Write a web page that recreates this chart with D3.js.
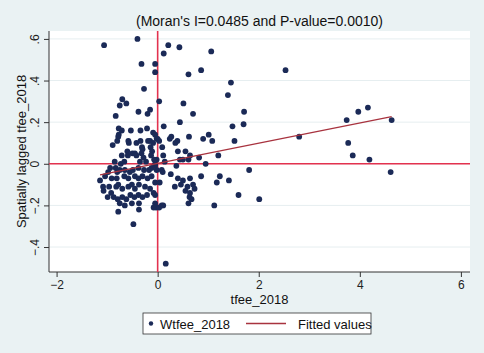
<!DOCTYPE html>
<html>
<head>
<meta charset="utf-8">
<script src="https://cdn.jsdelivr.net/npm/d3@7"></script>
<style>
  body { margin: 0; background: #eaf2f3; }
  svg { display: block; }
  text { font-family: 'Liberation Sans', Arial, sans-serif; }
</style>
</head>
<body>
<svg id="chart" width="484" height="353"></svg>
<script>
// Moran scatter: x = tfee_2018, y = spatially lagged tfee_2018
const tfee = [
  -1.06, -0.40, 0.21, 0.43, 0.12, 1.06, -0.32, -0.05, -0.05, 0.61,
  0.86, 2.53, -0.27, 1.45, 1.39, -0.70, -0.75, -0.62, 0.03, 0.51,
  -0.38, -0.20, -0.15, 0.70, -0.83, 1.71, 0.44, 0.12, 1.48, 1.70,
  -0.77, -0.71, -0.53, -0.34, -0.21, -0.09, 0.62, -0.77, -0.80, -0.89,
  -0.58, -0.57, -0.42, -0.34, -0.19, -0.15, -0.02, 0.27, 0.24, 0.39,
  0.35, -0.31, -0.14, 0.09, 0.90, 1.01, 1.08, 1.52, 2.80, 3.74,
  3.97, 4.16, 4.63, 3.77, 3.86, 4.19, 4.61, 0.64, 0.82, 1.20,
  0.95, 1.81, 0.64, 0.86, 0.70, 0.73, 1.23, 1.17, 1.41, 0.64,
  0.67, 1.60, 2.01, 1.12, -0.05, 0.00, 0.03, 0.40, 0.55, 0.11,
  0.44, 0.50, 0.61, 0.14, -0.02, -0.05, 0.37, -0.02, 0.08, 0.10,
  0.26, 0.40, 0.50, -0.05, 0.04, 0.34, 0.46, 0.59, 0.55, 0.63,
  0.61, -0.05, -0.05, -0.03, 0.03, 0.08, 0.11, -0.78, -0.09, -0.60,
  -0.50, -0.45, -0.30, -0.32, -0.71, -0.11, -0.13, -0.85, -0.73, -0.66,
  -0.59, -0.42, -0.35, -0.28, -0.23, -0.07, -0.94, -0.83, -0.98, -0.80,
  -0.75, -0.65, -0.55, -0.49, -0.38, -0.27, -0.17, -0.12, -0.05, -1.04,
  -0.91, -0.81, -0.66, -0.58, -0.45, -0.38, -0.30, -0.20, -0.12, -1.08,
  -1.07, -0.96, -0.92, -0.82, -0.78, -0.70, -0.58, -0.51, -0.45, -0.37,
  -0.25, -0.15, -0.08, -0.99, -0.87, -0.79, -0.70, -0.62, -0.54, -0.46,
  -0.38, -0.30, -0.21, -0.75, -0.65, -0.51, -0.37, -0.78, -0.37, -0.08,
  -0.48, 0.16, -1.14
]
const wtfee = [
  0.57, 0.60, 0.57, 0.56, 0.53, 0.54, 0.48, 0.48, 0.44, 0.43,
  0.45, 0.45, 0.36, 0.39, 0.33, 0.31, 0.28, 0.29, 0.30, 0.29,
  0.25, 0.24, 0.26, 0.24, 0.23, 0.25, 0.20, 0.18, 0.18, 0.19,
  0.17, 0.16, 0.16, 0.16, 0.17, 0.15, 0.13, 0.14, 0.11, 0.09,
  0.11, 0.10, 0.10, 0.11, 0.11, 0.11, 0.12, 0.13, 0.12, 0.11,
  0.10, 0.08, 0.08, 0.08, 0.12, 0.14, 0.11, 0.11, 0.13, 0.21,
  0.25, 0.27, 0.21, 0.10, 0.04, 0.02, -0.04, 0.04, 0.03, 0.04,
  0.00, -0.03, -0.07, -0.06, -0.10, -0.12, -0.06, -0.09, -0.08, -0.14,
  -0.17, -0.15, -0.17, -0.20, 0.14, 0.12, 0.11, 0.06, 0.06, 0.04,
  0.02, 0.02, 0.02, 0.01, 0.02, 0.00, -0.01, -0.03, -0.03, -0.04,
  -0.05, -0.07, -0.08, -0.09, -0.09, -0.11, -0.10, -0.11, -0.13, -0.16,
  -0.19, -0.15, -0.19, -0.21, -0.21, -0.20, -0.20, 0.13, 0.10, 0.06,
  0.05, 0.05, 0.07, 0.05, 0.04, 0.06, 0.04, 0.01, 0.00, 0.01,
  0.04, 0.04, 0.01, 0.03, 0.01, 0.02, -0.02, -0.02, -0.04, -0.04,
  -0.03, -0.03, -0.04, -0.03, -0.02, -0.03, -0.03, -0.02, -0.01, -0.06,
  -0.07, -0.07, -0.06, -0.07, -0.06, -0.07, -0.06, -0.07, -0.06, -0.11,
  -0.13, -0.11, -0.14, -0.11, -0.10, -0.12, -0.11, -0.10, -0.12, -0.10,
  -0.11, -0.12, -0.14, -0.16, -0.16, -0.17, -0.16, -0.17, -0.15, -0.16,
  -0.15, -0.16, -0.15, -0.19, -0.20, -0.19, -0.19, -0.23, -0.22, -0.21,
  -0.29, -0.48, -0.08
]
// linear fit (slope = Moran's I)
const fitSlope = 0.0485
const fitIntercept = 0.002

const xTicks = [-2, 0, 2, 4, 6]
const yTicks = [-0.4, -0.2, 0, 0.2, 0.4, 0.6]
const titleText = "(Moran's I=0.0485 and P-value=0.0010)"
const xTitle = 'tfee_2018'
const yTitle = 'Spatially lagged tfee_2018'
const legendLabels = ['Wtfee_2018', 'Fitted values']

const svg = d3.select('#chart')
const plotLeft = 49
const plotRight = 470
const plotTop = 31
const plotBottom = 272

const xScale = d3.scaleLinear().domain([-2.15, 6.18]).range([plotLeft, plotRight])
const yScale = d3.scaleLinear().domain([-0.52, 0.638]).range([plotBottom, plotTop])

// stata style tick labels: no leading zero
const fmt = d => {
  if (d === 0) return '0'
  return d3.format('.1f')(d).replace('0.', '.')
}

svg.append('rect')
  .attr('width', 484).attr('height', 353)
  .attr('fill', '#eaf2f3')

svg.append('rect')
  .attr('x', plotLeft).attr('y', plotTop)
  .attr('width', plotRight - plotLeft).attr('height', plotBottom - plotTop)
  .attr('fill', '#ffffff')

// gridlines
svg.append('g').selectAll('line')
  .data(yTicks)
  .join('line')
  .attr('x1', plotLeft).attr('x2', plotRight)
  .attr('y1', d => yScale(d)).attr('y2', d => yScale(d))
  .attr('stroke', '#e6eef0')
  .attr('stroke-width', 1)

// axes
const yAxis = svg.append('g')
  .attr('transform', `translate(${plotLeft},0)`)
  .call(d3.axisLeft(yScale).tickValues(yTicks).tickFormat(fmt).tickSize(5).tickSizeOuter(0))
yAxis.select('.domain').attr('d', `M0,${plotTop}V${plotBottom}`).attr('stroke', '#333')
yAxis.selectAll('.tick line').attr('stroke', '#333')
yAxis.selectAll('.tick text')
  .attr('transform', 'rotate(-90)')
  .attr('x', 0).attr('y', -10)
  .attr('dy', 0)
  .attr('text-anchor', 'middle')
  .attr('font-size', 12)
  .attr('fill', '#222')
  .attr('font-family', "'Liberation Sans', Arial, sans-serif")

const xAxis = svg.append('g')
  .attr('transform', `translate(0,${plotBottom})`)
  .call(d3.axisBottom(xScale).tickValues(xTicks).tickFormat(d3.format('d')).tickSize(5).tickSizeOuter(0))
xAxis.select('.domain').attr('d', `M${plotLeft},0H${plotRight}`).attr('stroke', '#333')
xAxis.selectAll('.tick line').attr('stroke', '#333')
xAxis.selectAll('.tick text')
  .attr('y', 8)
  .attr('font-size', 12)
  .attr('fill', '#222')
  .attr('font-family', "'Liberation Sans', Arial, sans-serif")

// reference lines at zero
svg.append('line')
  .attr('x1', xScale(0)).attr('x2', xScale(0))
  .attr('y1', plotTop).attr('y2', plotBottom)
  .attr('stroke', '#e3324f').attr('stroke-width', 1.6)
svg.append('line')
  .attr('x1', plotLeft).attr('x2', plotRight)
  .attr('y1', yScale(0)).attr('y2', yScale(0))
  .attr('stroke', '#e3324f').attr('stroke-width', 1.6)

// points
const points = tfee.map((x, i) => ({ x, y: wtfee[i] }))
svg.append('g').selectAll('circle')
  .data(points)
  .join('circle')
  .attr('cx', d => xScale(d.x))
  .attr('cy', d => yScale(d.y))
  .attr('r', 2.9)
  .attr('fill', '#1b2a57')

// fitted line over the x range of the data
const xExt = d3.extent(tfee)
const lineGenerator = d3.line()
  .x(d => xScale(d))
  .y(d => yScale(fitIntercept + fitSlope * d))
svg.append('path')
  .attr('d', lineGenerator(xExt))
  .attr('fill', 'none')
  .attr('stroke', '#a8333f')
  .attr('stroke-width', 1.3)

// titles
svg.append('text')
  .attr('x', (plotLeft + plotRight) / 2).attr('y', 26)
  .attr('text-anchor', 'middle')
  .attr('font-size', 14)
  .attr('fill', '#111')
  .text(titleText)

svg.append('text')
  .attr('x', (plotLeft + plotRight) / 2).attr('y', 304)
  .attr('text-anchor', 'middle')
  .attr('font-size', 13)
  .attr('fill', '#111')
  .text(xTitle)

svg.append('text')
  .attr('transform', `translate(26,${(plotTop + plotBottom) / 2}) rotate(-90)`)
  .attr('text-anchor', 'middle')
  .attr('font-size', 13)
  .attr('fill', '#111')
  .text(yTitle)

// legend
const legend = svg.append('g').attr('transform', 'translate(143,313)')
legend.append('rect')
  .attr('width', 228).attr('height', 21)
  .attr('fill', '#fff')
  .attr('stroke', '#333')
  .attr('stroke-width', 0.8)
legend.append('circle')
  .attr('cx', 8).attr('cy', 10.5).attr('r', 2.2)
  .attr('fill', '#1b2a57')
legend.append('text')
  .attr('x', 17).attr('y', 15.5)
  .attr('font-size', 13)
  .attr('fill', '#111')
  .text(legendLabels[0])
legend.append('line')
  .attr('x1', 103).attr('x2', 143)
  .attr('y1', 10.5).attr('y2', 10.5)
  .attr('stroke', '#a8333f').attr('stroke-width', 1.3)
legend.append('text')
  .attr('x', 155).attr('y', 15.5)
  .attr('font-size', 13)
  .attr('fill', '#111')
  .text(legendLabels[1])
</script>
</body>
</html>
